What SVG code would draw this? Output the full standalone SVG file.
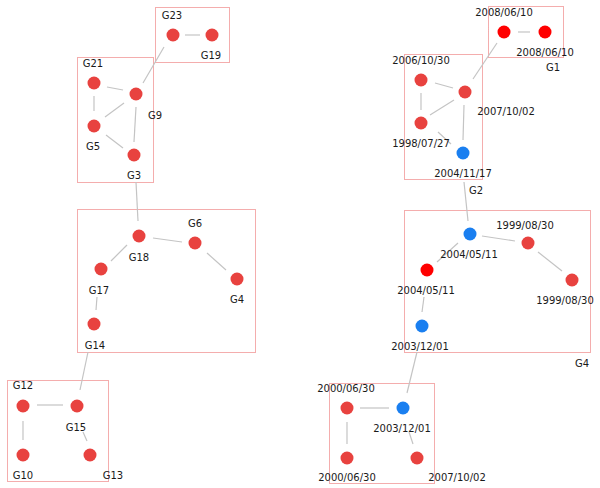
<svg xmlns="http://www.w3.org/2000/svg" width="600" height="488" viewBox="0 0 600 488">
<style>
.bg{fill:#ffffff}
.box{fill:none;stroke:#e85a5a;stroke-width:1;stroke-dasharray:1 1}
.e{stroke:#c4c4c4;stroke-width:1.2;fill:none}
.n{fill:#e8423f}
.r{fill:#ff0000}
.b{fill:#1a7ff0}
text{font-family:"DejaVu Sans",Tahoma,sans-serif;font-size:10px;fill:#1a1a1a;text-anchor:middle}
</style>
<rect class="bg" x="0" y="0" width="600" height="488"/>
<g id="boxes">
<rect class="box" x="155.5" y="7.5" width="74" height="55"/>
<rect class="box" x="77.5" y="57.5" width="76" height="125"/>
<rect class="box" x="77.5" y="209.5" width="178" height="143"/>
<rect class="box" x="7.5" y="380.5" width="101" height="101"/>
<rect class="box" x="488.5" y="6.5" width="75" height="51"/>
<rect class="box" x="404.5" y="54.5" width="78" height="125"/>
<rect class="box" x="404.5" y="210.5" width="186" height="142"/>
<rect class="box" x="329.5" y="383.5" width="105" height="100"/>
</g>
<g id="connectors">
<line class="e" x1="185" y1="35" x2="200" y2="35"/>
<line class="e" x1="164" y1="47" x2="143" y2="83"/>
<line class="e" x1="107" y1="87" x2="123" y2="90"/>
<line class="e" x1="94" y1="96" x2="94" y2="111"/>
<line class="e" x1="105" y1="117" x2="124" y2="103"/>
<line class="e" x1="136" y1="107" x2="134" y2="142"/>
<line class="e" x1="106" y1="135" x2="123" y2="148"/>
<line class="e" x1="136" y1="182" x2="138" y2="221"/>
<line class="e" x1="153" y1="238" x2="182" y2="242"/>
<line class="e" x1="207" y1="253" x2="226" y2="270"/>
<line class="e" x1="127" y1="245" x2="111" y2="261"/>
<line class="e" x1="97" y1="297" x2="96" y2="310"/>
<line class="e" x1="88" y1="352" x2="80" y2="390"/>
<line class="e" x1="37" y1="405" x2="63" y2="405"/>
<line class="e" x1="23" y1="421" x2="23" y2="440"/>
<line class="e" x1="83" y1="432" x2="87" y2="441"/>
<line class="e" x1="518" y1="32" x2="530" y2="32"/>
<line class="e" x1="497" y1="43" x2="473" y2="79"/>
<line class="e" x1="435" y1="83" x2="453" y2="88"/>
<line class="e" x1="421" y1="93" x2="421" y2="110"/>
<line class="e" x1="430" y1="115" x2="454" y2="100"/>
<line class="e" x1="464" y1="105" x2="463" y2="140"/>
<line class="e" x1="438" y1="132" x2="451" y2="144"/>
<line class="e" x1="464" y1="182" x2="468" y2="221"/>
<line class="e" x1="482" y1="236" x2="515" y2="241"/>
<line class="e" x1="538" y1="252" x2="562" y2="271"/>
<line class="e" x1="458" y1="243" x2="437" y2="262"/>
<line class="e" x1="424" y1="297" x2="422" y2="312"/>
<line class="e" x1="417" y1="352" x2="407" y2="393"/>
<line class="e" x1="360" y1="408" x2="389" y2="408"/>
<line class="e" x1="347" y1="422" x2="347" y2="444"/>
<line class="e" x1="409" y1="432" x2="413" y2="444"/>
</g>
<g id="G23"><circle class="n" cx="173" cy="35" r="6.5"/><text x="172" y="19">G23</text></g>
<g id="G19"><circle class="n" cx="212" cy="35" r="6.5"/><text x="211" y="59">G19</text></g>
<g id="G21"><circle class="n" cx="94" cy="83" r="6.5"/><text x="93" y="67">G21</text></g>
<g id="G9"><circle class="n" cx="136" cy="94" r="6.5"/><text x="155" y="119">G9</text></g>
<g id="G5"><circle class="n" cx="94" cy="126" r="6.5"/><text x="93" y="150">G5</text></g>
<g id="G3"><circle class="n" cx="134" cy="155" r="6.5"/><text x="134" y="179">G3</text></g>
<g id="G18"><circle class="n" cx="139" cy="236" r="6.5"/><text x="139" y="261">G18</text></g>
<g id="G6"><circle class="n" cx="195" cy="243" r="6.5"/><text x="195" y="227">G6</text></g>
<g id="G4"><circle class="n" cx="237" cy="279" r="6.5"/><text x="237" y="303">G4</text></g>
<g id="G17"><circle class="n" cx="101" cy="269" r="6.5"/><text x="99" y="294">G17</text></g>
<g id="G14"><circle class="n" cx="94" cy="324" r="6.5"/><text x="95" y="349">G14</text></g>
<g id="G12"><circle class="n" cx="23" cy="406" r="6.5"/><text x="23" y="389">G12</text></g>
<g id="G15"><circle class="n" cx="77" cy="406" r="6.5"/><text x="76" y="431">G15</text></g>
<g id="G10"><circle class="n" cx="23" cy="455" r="6.5"/><text x="23" y="479">G10</text></g>
<g id="G13"><circle class="n" cx="90" cy="455" r="6.5"/><text x="113" y="479">G13</text></g>
<g id="n2008a"><circle class="r" cx="504" cy="32" r="6.5"/><text x="504" y="16">2008/06/10</text></g>
<g id="n2008b"><circle class="r" cx="545" cy="32" r="6.5"/><text x="545" y="56">2008/06/10</text></g>
<g id="G1"><text x="553" y="71">G1</text></g>
<g id="n2006"><circle class="n" cx="421" cy="80" r="6.5"/><text x="421" y="64">2006/10/30</text></g>
<g id="n2007a"><circle class="n" cx="465" cy="92" r="6.5"/><text x="506" y="115">2007/10/02</text></g>
<g id="n1998"><circle class="n" cx="421" cy="123" r="6.5"/><text x="421" y="147">1998/07/27</text></g>
<g id="n20041117"><circle class="b" cx="463" cy="153" r="6.5"/><text x="463" y="177">2004/11/17</text></g>
<g id="G2"><text x="476" y="194">G2</text></g>
<g id="n20040511b"><circle class="b" cx="470" cy="234" r="6.5"/><text x="469" y="258">2004/05/11</text></g>
<g id="n1999a"><circle class="n" cx="528" cy="243" r="6.5"/><text x="525" y="229">1999/08/30</text></g>
<g id="n1999b"><circle class="n" cx="572" cy="280" r="6.5"/><text x="565" y="304">1999/08/30</text></g>
<g id="n20040511r"><circle class="r" cx="427" cy="270" r="6.5"/><text x="426" y="294">2004/05/11</text></g>
<g id="n20031201a"><circle class="b" cx="422" cy="326" r="6.5"/><text x="420" y="350">2003/12/01</text></g>
<g id="G4label"><text x="582" y="367">G4</text></g>
<g id="n2000a"><circle class="n" cx="347" cy="408" r="6.5"/><text x="346" y="392">2000/06/30</text></g>
<g id="n20031201b"><circle class="b" cx="403" cy="408" r="6.5"/><text x="402" y="432">2003/12/01</text></g>
<g id="n2000b"><circle class="n" cx="347" cy="458" r="6.5"/><text x="347" y="481">2000/06/30</text></g>
<g id="n2007b"><circle class="n" cx="417" cy="458" r="6.5"/><text x="457" y="481">2007/10/02</text></g>
</svg>
